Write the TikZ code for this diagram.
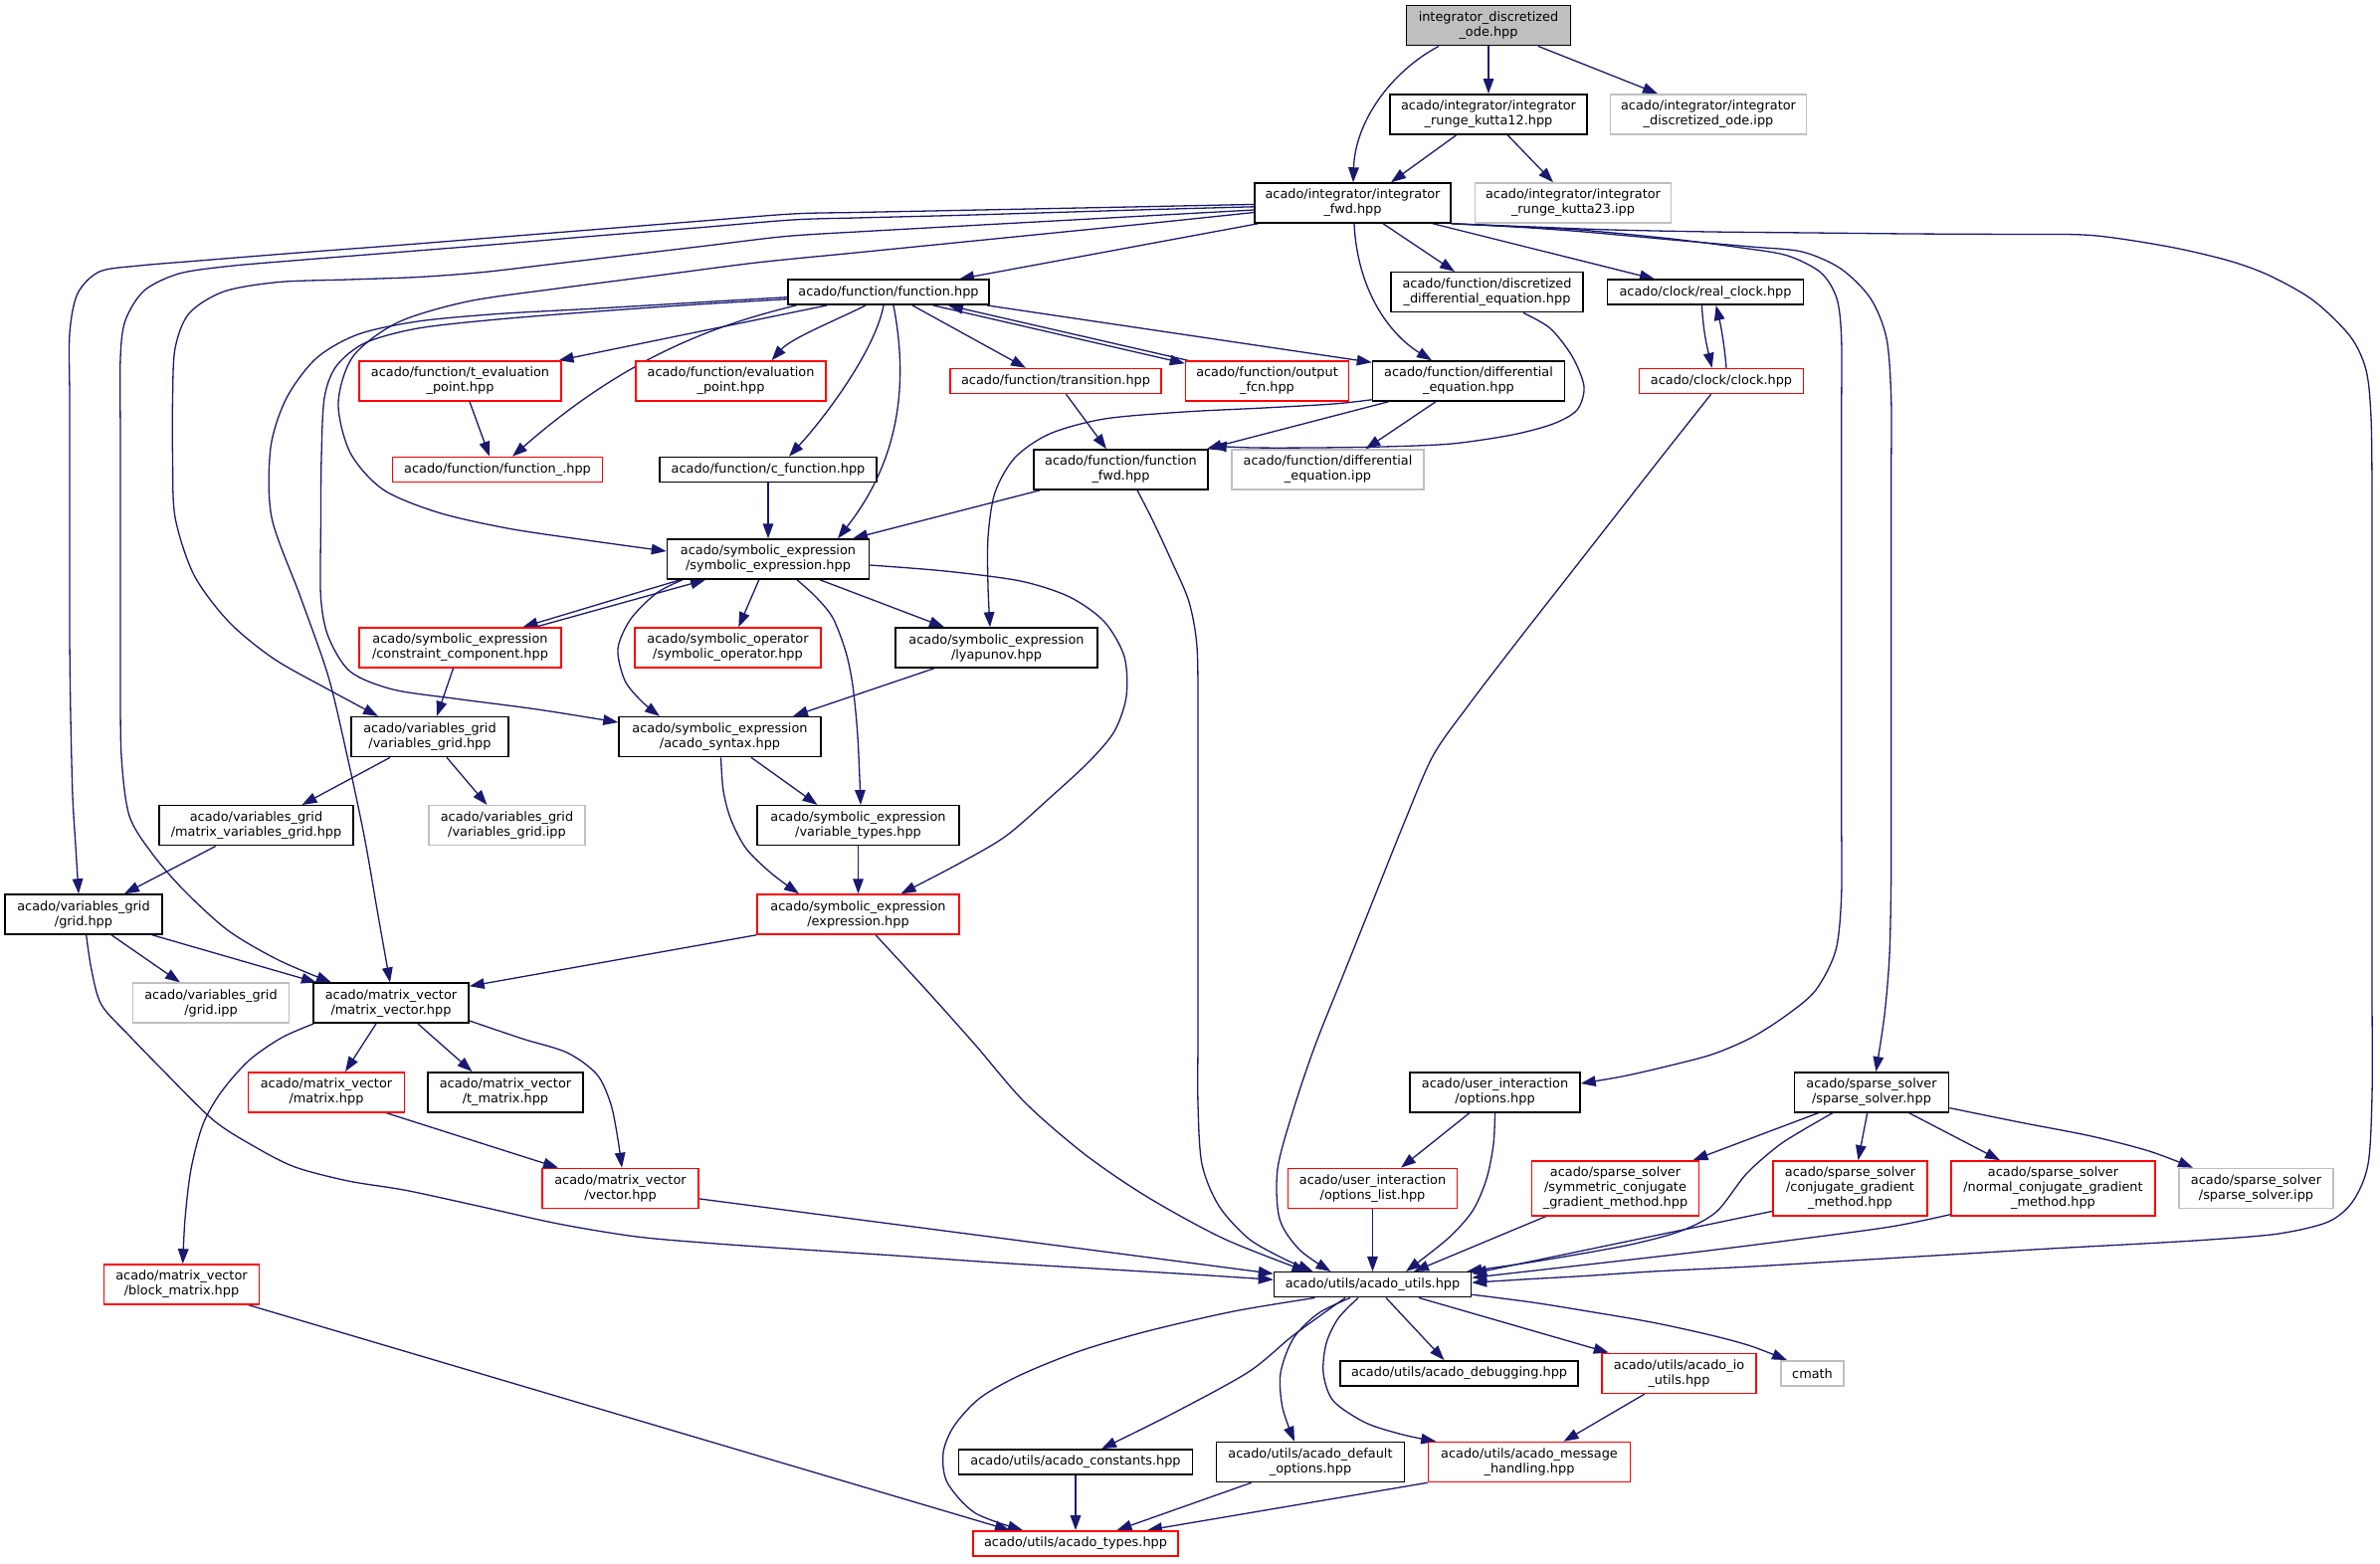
\documentclass[tikz,border=0pt]{standalone}
\usepackage{fontspec}
\setmainfont{DejaVu Sans}
\usetikzlibrary{arrows.meta,calc}
\definecolor{eblue}{HTML}{191970}
\definecolor{gry}{HTML}{BFBFBF}
\definecolor{nred}{HTML}{FF0000}
\pgfdeclarelayer{bg}
\pgfsetlayers{bg,main}
\begin{document}
\begin{tikzpicture}[x=0.5pt,y=-0.5pt,
  box/.style={rectangle, draw=black, line width=0.75pt, fill=white, inner sep=0pt, align=center,
              font=\fontsize{6.43pt}{7.45pt}\selectfont, minimum height=20pt},
  one/.style={minimum height=12.5pt},
  three/.style={minimum height=27.5pt},
  trunc/.style={draw=nred},
  undoc/.style={draw=gry},
  root/.style={fill=gry},
  dep/.style={draw=eblue, line width=0.65pt, -{Triangle[length=7.5pt,width=5.3pt]}},
]
\useasboundingbox (0,0) rectangle (2392,1571);

% ---------------- nodes ----------------
\node[box,root,minimum width=82.5pt] (ide) at (1496,25.7) {integrator\_discretized\\\_ode.hpp};
\node[box,minimum width=99pt] (rkA) at (1496,114.8) {acado/integrator/integrator\\\_runge\_kutta12.hpp};
\node[box,undoc,minimum width=98.5pt] (ideipp) at (1717,114.8) {acado/integrator/integrator\\\_discretized\_ode.ipp};
\node[box,minimum width=98.5pt] (fwd) at (1359.5,204) {acado/integrator/integrator\\\_fwd.hpp};
\node[box,undoc,minimum width=98.5pt] (rkB) at (1581,204) {acado/integrator/integrator\\\_runge\_kutta23.ipp};
\node[box,one,minimum width=101pt] (fn) at (893,293.7) {acado/function/function.hpp};
\node[box,minimum width=96.5pt] (disc) at (1494.5,293.7) {acado/function/discretized\\\_differential\_equation.hpp};
\node[box,one,minimum width=98.5pt] (rclk) at (1714,293.7) {acado/clock/real\_clock.hpp};
\node[box,trunc,minimum width=101.5pt] (teval) at (462.5,383) {acado/function/t\_evaluation\\\_point.hpp};
\node[box,trunc,minimum width=95.5pt] (eval) at (734.5,383) {acado/function/evaluation\\\_point.hpp};
\node[box,trunc,one,minimum width=106pt] (trans) at (1061,383) {acado/function/transition.hpp};
\node[box,trunc,minimum width=82pt] (outp) at (1273.5,383) {acado/function/output\\\_fcn.hpp};
\node[box,minimum width=96.5pt] (deq) at (1476,383) {acado/function/differential\\\_equation.hpp};
\node[box,trunc,one,minimum width=82.5pt] (clk) at (1730,383) {acado/clock/clock.hpp};
\node[box,trunc,one,minimum width=105.5pt] (fnu) at (500,472) {acado/function/function\_.hpp};
\node[box,one,minimum width=109pt] (cfn) at (772,472) {acado/function/c\_function.hpp};
\node[box,minimum width=87.5pt] (ffwd) at (1126.5,472) {acado/function/function\\\_fwd.hpp};
\node[box,undoc,minimum width=96.5pt] (deqipp) at (1334.5,472) {acado/function/differential\\\_equation.ipp};
\node[box,minimum width=101.5pt] (sym) at (772,562) {acado/symbolic\_expression\\/symbolic\_expression.hpp};
\node[box,trunc,minimum width=101.5pt] (cons) at (462.5,651) {acado/symbolic\_expression\\/constraint\_component.hpp};
\node[box,trunc,minimum width=93.5pt] (symop) at (731.5,651) {acado/symbolic\_operator\\/symbolic\_operator.hpp};
\node[box,minimum width=101.5pt] (lyap) at (1001.5,651) {acado/symbolic\_expression\\/lyapunov.hpp};
\node[box,minimum width=79pt] (vgrid) at (432,740.6) {acado/variables\_grid\\/variables\_grid.hpp};
\node[box,minimum width=101.5pt] (syn) at (723.5,740.6) {acado/symbolic\_expression\\/acado\_syntax.hpp};
\node[box,minimum width=97.5pt] (mvg) at (257.5,829.7) {acado/variables\_grid\\/matrix\_variables\_grid.hpp};
\node[box,undoc,minimum width=78.5pt] (vgipp) at (509.5,829.7) {acado/variables\_grid\\/variables\_grid.ipp};
\node[box,minimum width=101.5pt] (vtyp) at (862.5,829.7) {acado/symbolic\_expression\\/variable\_types.hpp};
\node[box,minimum width=79pt] (grid) at (84,919) {acado/variables\_grid\\/grid.hpp};
\node[box,trunc,minimum width=101.5pt] (expr) at (862.5,919) {acado/symbolic\_expression\\/expression.hpp};
\node[box,undoc,minimum width=78.5pt] (gridipp) at (212,1008.2) {acado/variables\_grid\\/grid.ipp};
\node[box,minimum width=78pt] (mv) at (393,1008.2) {acado/matrix\_vector\\/matrix\_vector.hpp};
\node[box,trunc,minimum width=78.5pt] (mat) at (328,1097.8) {acado/matrix\_vector\\/matrix.hpp};
\node[box,minimum width=78pt] (tmat) at (508,1097.8) {acado/matrix\_vector\\/t\_matrix.hpp};
\node[box,minimum width=85.5pt] (opts) at (1502.5,1097.8) {acado/user\_interaction\\/options.hpp};
\node[box,minimum width=77.5pt] (sps) at (1881,1097.8) {acado/sparse\_solver\\/sparse\_solver.hpp};
\node[box,trunc,minimum width=78.5pt] (vec) at (623.5,1194.4) {acado/matrix\_vector\\/vector.hpp};
\node[box,trunc,minimum width=85pt] (optl) at (1379.5,1194.4) {acado/user\_interaction\\/options\_list.hpp};
\node[box,trunc,three,minimum width=84pt] (scg) at (1623.5,1194.4) {acado/sparse\_solver\\/symmetric\_conjugate\\\_gradient\_method.hpp};
\node[box,trunc,three,minimum width=77.5pt] (cg) at (1859.5,1194.4) {acado/sparse\_solver\\/conjugate\_gradient\\\_method.hpp};
\node[box,trunc,three,minimum width=102.5pt] (ncg) at (2063.5,1194.4) {acado/sparse\_solver\\/normal\_conjugate\_gradient\\\_method.hpp};
\node[box,undoc,minimum width=77.5pt] (ssipp) at (2267.5,1194.4) {acado/sparse\_solver\\/sparse\_solver.ipp};
\node[box,trunc,minimum width=78pt] (blk) at (182.5,1291) {acado/matrix\_vector\\/block\_matrix.hpp};
\node[box,one,minimum width=99pt] (utl) at (1379.5,1291.2) {acado/utils/acado\_utils.hpp};
\node[box,one,minimum width=119.5pt] (dbg) at (1466.5,1380.3) {acado/utils/acado\_debugging.hpp};
\node[box,trunc,minimum width=77.5pt] (io) at (1687.5,1380.3) {acado/utils/acado\_io\\\_utils.hpp};
\node[box,undoc,one,minimum width=31.5pt] (cmath) at (1821.5,1380.3) {cmath};
\node[box,one,minimum width=117.5pt] (cst) at (1081,1469.5) {acado/utils/acado\_constants.hpp};
\node[box,minimum width=94.5pt] (dflt) at (1317,1469.5) {acado/utils/acado\_default\\\_options.hpp};
\node[box,trunc,minimum width=101.5pt] (msg) at (1537,1469.5) {acado/utils/acado\_message\\\_handling.hpp};
\node[box,trunc,one,minimum width=103pt] (typ) at (1081,1551.3) {acado/utils/acado\_types.hpp};

% ---------------- edges ----------------
\begin{pgfonlayer}{bg}
% root
\draw[dep] (ide.south) -- (rkA.north);
\draw[dep] ($(ide.south)+(-50,0)$) .. controls (1398,72) and (1362,122) .. ($(fwd.north)+(0.5,0)$);
\draw[dep] ($(ide.south)+(50,0)$) -- ($(ideipp.north)+(-51,0)$);
\draw[dep] ($(rkA.south)+(-32,0)$) -- ($(fwd.north)+(38.5,0)$);
\draw[dep] ($(rkA.south)+(19,0)$) -- ($(rkB.north)+(-20,0)$);
% integrator_fwd
\draw[dep] ($(fwd.south)+(-95,0)$) -- ($(fn.north)+(71,0)$);
\draw[dep] ($(fwd.south)+(30.5,0)$) -- ($(disc.north)+(-32.5,0)$);
\draw[dep] ($(fwd.south)+(80.5,0)$) -- ($(rclk.north)+(-51,0)$);
\draw[dep] ($(fwd.south)+(1.5,0)$) .. controls (1364,290) and (1395,335) .. ($(deq.north)+(-37,0)$);
\draw[dep] plot[smooth,tension=0.5] coordinates {($(fwd.west)+(0,9.5)$) (1160,224) (1060,234) (960,244) (860,254) (760,264) (660,277) (560,290) (470,303) (400,324) (355,358) (340,405) (352,455) (385,492) (440,515) (510,531) (590,543) ($(sym.west)+(0,-8)$)};
\draw[dep] plot[smooth,tension=0.5] coordinates {($(fwd.west)+(0,7)$) (1160,216.5) (1060,222) (960,227.5) (870,232.5) (790,237.5) (710,247) (630,256.5) (550,266) (485,273.6) (420,278.5) (350,281) (280,283.5) (225,293) (190,315) (176,350) (173.5,400) (173.5,460) (176,520) (195,578) (230,625) (275,662) (330,693) ($(vgrid.north)+(-52,0)$)};
\draw[dep] plot[smooth,tension=0.5] coordinates {($(fwd.west)+(0,1.4)$) (1160,207.5) (1060,209.5) (960,211.5) (860,213.5) (796,215) (700,222.5) (600,230.5) (500,238.5) (400,246.5) (300,254) (200,262) (140,267) (100,273) (78,295) (70,335) (70,400) (70,480) (70,560) (70,640) (71,720) (73,800) (76,850) ($(grid.north)+(-5,0)$)};
\draw[dep] plot[smooth,tension=0.5] coordinates {($(fwd.west)+(0,3.8)$) (1160,210.5) (1060,213.5) (960,216.5) (860,219) (796,221) (700,229) (600,237) (500,245.5) (400,253.5) (300,261.5) (230,267.5) (180,275) (145,292) (126,322) (121,360) (121,440) (121,520) (121,600) (121,680) (122,760) (130,820) (153,858) (185,895) (229.6,935.5) (280,965) ($(mv.north)+(-60,0)$)};
\draw[dep] plot[smooth,tension=0.5] coordinates {(fwd.south east) (1530,228) (1592,231.4) (1680,240) (1750,249) (1796,256.8) (1830,274) (1846,300) (1850.7,340) (1850.7,420) (1850.7,500) (1850.7,580) (1850.7,660) (1850.7,740) (1850.7,820) (1850.7,900) (1845,955) (1825,995) (1796,1020) (1760,1043) (1720,1060) (1670,1073) (1630,1082) ($(opts.east)+(0,-8.8)$)};
\draw[dep] plot[smooth,tension=0.5] coordinates {(fwd.south east) (1530,228.5) (1592,233) (1680,241) (1760,248) (1811,253) (1850,270) (1880,300) (1896,340) (1900.7,400) (1900.7,480) (1900.7,560) (1900.7,640) (1900.7,720) (1900.7,800) (1900.7,880) (1899,960) (1894,1020) ($(sps.north)+(4.4,0)$)};
\draw[dep] plot[smooth,tension=0.5] coordinates {(fwd.south east) (1540,228) (1620,231) (1720,233) (1820,234) (1920,235) (2020,235.5) (2102,236.5) (2180,248) (2240,262) (2281,277) (2325,302) (2362,338) (2378,372) (2383,420) (2384,500) (2384,600) (2384,700) (2384,800) (2384,900) (2384,1000) (2384,1100) (2380,1170) (2365,1207) (2340,1228) (2290,1240) (2220,1246) (2153,1250) (2060,1255) (1960,1261) (1860,1267) (1760,1273) (1660,1278) (1592,1282.5) (1530,1286) ($(utl.east)+(0,-2)$)};
% function.hpp
\draw[dep] ($(fn.south)+(-62,0)$) -- ($(teval.north)+(99,0)$);
\draw[dep] ($(fn.south)+(-23,0)$) .. controls (840,322) and (795,340) .. ($(eval.north)+(41,0)$);
\draw[dep] ($(fn.south)+(24,0)$) -- ($(trans.north)+(-30,0)$);
\draw[dep] ($(fn.south)+(45,0)$) -- ($(outp.north west)+(0,3)$);
\draw[dep] ($(outp.north west)+(3,0)$) -- ($(fn.south)+(60,0)$);
\draw[dep] ($(fn.south)+(99,0)$) -- ($(deq.north west)+(0,2)$);
\draw[dep] ($(fn.south west)+(9,0)$) .. controls (704,330) and (620,367) .. ($(fnu.north)+(15,0)$);
\draw[dep] ($(fn.south)+(-5,0)$) .. controls (880,350) and (833,415) .. ($(cfn.north)+(21,0)$);
\draw[dep] ($(fn.south)+(5,0)$) .. controls (918,410) and (890,480) .. ($(sym.north)+(70,0)$);
\draw[dep] plot[smooth,tension=0.5] coordinates {($(fn.west)+(0,5)$) (700,304) (600,310) (500,315.5) (420,323) (360,336) (318,360) (288,400) (272,450) (273,520) (302,600) (330,680) (349,760) (366,840) (380,920) ($(mv.north)+(-1,0)$)};
\draw[dep] plot[smooth,tension=0.5] coordinates {($(fn.west)+(0,7)$) (700,306) (600,313) (500,321) (420,330) (367,344.6) (338,368) (326,400) (323,460) (322.4,530) (322.4,600) (330,640) (352,675) (395,693) (459,702.4) (540,713) ($(syn.west)+(0,-14.6)$)};
% rank 4-6
\draw[dep] plot[smooth,tension=0.5] coordinates {($(disc.south)+(36.5,0)$) (1558,330) (1580,358) (1592,388.5) (1585,412) (1561,426) (1520,437) (1459,446) (1390,449) (1320,450) (1260,450) ($(ffwd.north east)+(3,-3)$)};
\draw[dep] ($(deq.south)+(-80.5,0)$) -- ($(ffwd.north east)+(-2,0)$);
\draw[dep] ($(deq.south)+(-33,0)$) -- ($(deqipp.north)+(38,0)$);
\draw[dep] plot[smooth,tension=0.5] coordinates {($(deq.south west)+(0,-2)$) (1340,406) (1270,410) (1190,414) (1110,421) (1055,436) (1020,460) (1000,495) (993,540) (993,590) ($(lyap.north)+(-6.5,0)$)};
\draw[dep] ($(trans.south)+(10.5,0)$) -- ($(ffwd.north)+(-14.5,0)$);
\draw[dep] ($(rclk.south)+(-3.6,0)$) .. controls (1712,335) and (1716,350) .. ($(clk.north)+(-9.4,0)$);
\draw[dep] ($(clk.north)+(5,0)$) .. controls (1733,345) and (1729,325) .. ($(rclk.south)+(10.7,0)$);
\draw[dep] plot[smooth,tension=0.5] coordinates {($(clk.south)+(-10.4,0)$) (1670,459) (1620,523) (1570,587) (1520,651) (1475,710) (1440,760) (1410,830) (1380,905) (1350,980) (1322,1050) (1300,1115) (1284,1175) (1286,1225) (1306,1256) ($(utl.north)+(-42,0)$)};
\draw[dep] plot[smooth,tension=0.5] coordinates {($(ffwd.south)+(16.5,0)$) (1158,522) (1178,565) (1195,605) (1203,650) (1204,720) (1204,800) (1204,880) (1204,960) (1204,1040) (1204,1110) (1208,1170) (1225,1212) (1255,1245) (1290,1265) ($(utl.north)+(-60,0)$)};
\draw[dep] ($(ffwd.south west)+(7,0)$) -- ($(sym.north)+(85,0)$);
\draw[dep] (cfn.south) -- (sym.north);
\draw[dep] ($(teval.south)+(9.5,0)$) -- ($(fnu.north)+(-8,0)$);
% symbolic expression
\draw[dep] ($(sym.south)+(-88.3,0)$) -- ($(cons.north)+(63,0)$);
\draw[dep] ($(cons.north)+(75.5,0)$) -- ($(sym.south)+(-63,0)$);
\draw[dep] ($(sym.south)+(-9.2,0)$) -- ($(symop.north)+(10.8,0)$);
\draw[dep] plot[smooth,tension=0.5] coordinates {($(sym.south)+(-86,0)$) (660,596) (634,622) (621,652) (628,684) (645,705) ($(syn.north)+(-60.5,0)$)};
\draw[dep] ($(sym.south)+(52,0)$) -- ($(lyap.north)+(-52.5,0)$);
\draw[dep] plot[smooth,tension=0.5] coordinates {($(sym.south)+(29,0)$) (820,600) (837,621) (850,655) (857,689) (862,740) ($(vtyp.north)+(2.5,0)$)};
\draw[dep] plot[smooth,tension=0.5] coordinates {($(sym.east)+(0,6)$) (950,574) (1025.6,584) (1075,600) (1110,625) (1130,660) (1132,700) (1120,735) (1095,765) (1055,802) (1010,841) (960,870) ($(expr.north)+(43,0)$)};
\draw[dep] ($(lyap.south)+(-62.5,0)$) -- ($(syn.north)+(73.5,0)$);
\draw[dep] ($(cons.south)+(-7,0)$) -- ($(vgrid.north)+(7,0)$);
\draw[dep] plot[smooth,tension=0.5] coordinates {($(syn.south)+(1,0)$) (727,795) (734.7,824) (750,853) (775.5,878) ($(expr.north)+(-59.5,0)$)};
\draw[dep] ($(syn.south)+(31.5,0)$) -- ($(vtyp.north)+(-41,0)$);
\draw[dep] (vtyp.south) -- (expr.north);
\draw[dep] (expr.south west) -- ($(mv.east)+(0,-17)$);
\draw[dep] plot[smooth,tension=0.5] coordinates {($(expr.south)+(17.5,0)$) (930,994) (980,1050) (1030,1108) (1090,1160) (1153,1203) (1230,1245) ($(utl.north)+(-66,0)$)};
% variables grid
\draw[dep] ($(vgrid.south)+(-40,0)$) -- ($(mvg.north)+(46,0)$);
\draw[dep] ($(vgrid.south)+(17,0)$) -- ($(vgipp.north)+(-20,0)$);
\draw[dep] ($(mvg.south)+(-40.7,0)$) -- ($(grid.north)+(41,0)$);
\draw[dep] ($(grid.south)+(28,0)$) -- ($(gridipp.north)+(-31,0)$);
\draw[dep] ($(grid.south)+(69,0)$) -- ($(mv.north)+(-75,0)$);
\draw[dep] plot[smooth,tension=0.5] coordinates {($(grid.south)+(2.7,0)$) (92,975) (102,1010) (130,1041) (163,1075) (214,1125.5) (255,1152) (296,1172.8) (350,1187) (408,1196.4) (480,1212) (561,1230) (640,1243) (720,1250) (800,1255.5) (900,1262) (1000,1269) (1100,1275) (1200,1281) ($(utl.west)+(0,-5)$)};
% matrix vector
\draw[dep] plot[smooth,tension=0.5] coordinates {($(mv.south west)+(1,0)$) (283,1043) (250,1066) (222,1098) (204,1130) (192,1175) (186,1225) ($(blk.north)+(1.2,0)$)};
\draw[dep] ($(mv.south)+(-15,0)$) -- ($(mat.north)+(19,0)$);
\draw[dep] ($(mv.south)+(27,0)$) -- ($(tmat.north)+(-33.5,0)$);
\draw[dep] plot[smooth,tension=0.5] coordinates {($(mv.south east)+(0,-3)$) (525,1044) (570,1058) (600,1080) (614,1110) (621,1145) ($(vec.north)+(1.5,0)$)};
\draw[dep] ($(mat.south)+(60,0)$) -- ($(vec.north)+(-62.5,0)$);
\draw[dep] ($(vec.east)+(0,10.5)$) -- ($(utl.west)+(0,-11)$);
\draw[dep] ($(blk.south)+(67.5,0)$) -- ($(typ.north)+(-66,0)$);
% options / sparse solver
\draw[dep] ($(opts.south)+(-25.5,0)$) -- ($(optl.north)+(28.5,0)$);
\draw[dep] plot[smooth,tension=0.5] coordinates {(opts.south) (1501,1150) (1494,1185) (1480,1217) (1455,1245) ($(utl.north)+(33.5,0)$)};
\draw[dep] (optl.south) -- (utl.north);
\draw[dep] ($(scg.south)+(-70,0)$) -- ($(utl.north)+(41.5,0)$);
\draw[dep] plot[smooth,tension=0.5] coordinates {($(sps.south)+(-39,0)$) (1810,1137) (1786,1152.5) (1755,1180) (1725,1218) (1690,1237) (1643,1250) (1590,1260) (1530,1270) ($(utl.north east)+(-5,0)$)};
\draw[dep] ($(cg.west)+(0,23)$) -- ($(utl.east)+(0,-11)$);
\draw[dep] plot[smooth,tension=0.5] coordinates {($(ncg.south west)+(0,-2)$) (1900,1233) (1796,1247) (1700,1259) (1592,1271.4) ($(utl.east)+(0,-7)$)};
\draw[dep] ($(sps.south)+(-53.3,0)$) -- ($(scg.north)+(78,0)$);
\draw[dep] ($(sps.south)+(-4.3,0)$) -- ($(cg.north)+(8,0)$);
\draw[dep] ($(sps.south)+(37.5,0)$) -- ($(ncg.north)+(-53.5,0)$);
\draw[dep] plot[smooth,tension=0.5] coordinates {($(sps.east)+(0,15.8)$) (2030,1128) (2102,1142) (2160,1157) ($(ssipp.north)+(-63.5,0)$)};
% acado_utils
\draw[dep] plot[smooth,tension=0.5] coordinates {($(utl.south)+(-58,0)$) (1240,1318) (1153,1338) (1085,1358) (1025.6,1382) (985,1405) (959,1433) (948,1460) (952,1490) (980,1520.7) ($(typ.north)+(-53,0)$)};
\draw[dep] plot[smooth,tension=0.5] coordinates {($(utl.south)+(-27.5,0)$) (1300,1342) (1255,1378.8) (1180,1420) ($(cst.north)+(26,0)$)};
\draw[dep] plot[smooth,tension=0.5] coordinates {($(utl.south)+(-22.5,0)$) (1325,1320) (1300,1345) (1287,1380) (1289,1415) ($(dflt.north)+(-16,0)$)};
\draw[dep] plot[smooth,tension=0.5] coordinates {($(utl.south)+(-14.5,0)$) (1345,1325) (1333,1350) (1330,1380) (1340,1408) (1372.5,1430) (1410,1442) ($(msg.north west)+(8.5,0)$)};
\draw[dep] ($(utl.south)+(13.5,0)$) -- ($(dbg.north)+(-15,0)$);
\draw[dep] ($(utl.south)+(46.5,0)$) -- ($(io.north west)+(7.5,0)$);
\draw[dep] plot[smooth,tension=0.5] coordinates {($(utl.east)+(0,10)$) (1540,1309) (1596,1318) (1660,1329) (1719.6,1342) (1760,1353) ($(cmath.north)+(-25.5,0)$)};
\draw[dep] ($(io.south)+(-34.5,0)$) -- ($(msg.north)+(34.5,0)$);
\draw[dep] (cst.south) -- (typ.north);
\draw[dep] ($(dflt.south)+(-59.3,0)$) -- ($(typ.north)+(41.5,0)$);
\draw[dep] (msg.south west) -- ($(typ.north)+(72,0)$);
\end{pgfonlayer}
\end{tikzpicture}
\end{document}
